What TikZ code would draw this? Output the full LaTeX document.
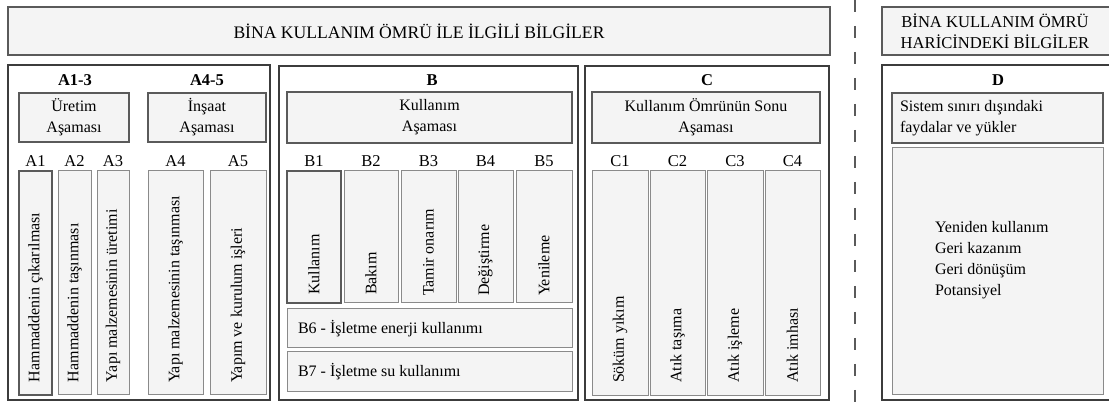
\documentclass[tikz,border=0pt]{standalone}
\usepackage{fontspec}
\setmainfont{Liberation Serif}
\definecolor{dk}{HTML}{3C3C3C}
\definecolor{md}{HTML}{5A5A5A}
\definecolor{lt}{HTML}{8A8A8A}
\definecolor{fl}{HTML}{F4F4F4}
\newcommand\bx[7]{\node[#6, anchor=north west, minimum width={#4-#2}, minimum height={#5-#3}] (#1) at (#2,#3) {#7};}
\begin{document}
\begin{tikzpicture}[x=1pt,y=-1pt,
  every node/.style={inner sep=0pt, outer sep=0pt, font=\fontsize{16}{21}\selectfont},
  panel/.style={draw=dk, line width=1.3pt, fill=white},
  hdr/.style={draw=md, line width=1.1pt, fill=fl, align=center},
  col/.style={draw=lt, line width=1pt, fill=fl},
  colD/.style={draw=md, line width=1.1pt, fill=fl},
  ttl/.style={font=\fontsize{16.5}{21}\selectfont\bfseries},
  lbl/.style={font=\fontsize{16.5}{21}\selectfont},
  vt/.style={rotate=90, anchor=west},
  sep/.style={draw=md, line width=1.4pt, dash pattern=on 12pt off 14pt}]
\useasboundingbox (0,0) rectangle (1109,403);
% banners
\bx{ban}{8}{7}{830}{55}{hdr}{}
\node[font=\fontsize{17.6}{21}\selectfont] (bant) at (ban.center) {BİNA KULLANIM ÖMRÜ İLE İLGİLİ BİLGİLER};
\bx{banD}{882}{7}{1114}{55}{hdr}{}
\node[align=center, font=\fontsize{16.6}{21.5}\selectfont] (banDt) at (995,31) {BİNA KULLANIM ÖMRÜ\\HARİCİNDEKİ BİLGİLER};
% separator
\coordinate (s1) at (855,0);
\coordinate (s2) at (855,403);
\draw[sep] (s1) -- (s2);
% panels
\bx{pA}{8}{65}{270}{400}{panel}{}
\bx{pB}{279}{66}{578}{400}{panel}{}
\bx{pC}{585}{66}{829}{400}{panel}{}
\bx{pD}{882}{65}{1114}{400}{panel}{}
% panel titles
\node[ttl] (tA13) at (75,80) {A1-3};
\node[ttl] (tA45) at (207,80) {A4-5};
\node[ttl] (tB) at (432,80) {B};
\node[ttl] (tC) at (707,80) {C};
\node[ttl] (tD) at (998,80) {D};
% header boxes
\bx{hU}{19}{93}{129}{142}{hdr}{Üretim\\Aşaması}
\bx{hI}{148}{93}{266}{142}{hdr}{İnşaat\\Aşaması}
\bx{hB}{287}{92}{572}{143}{hdr}{Kullanım\\Aşaması}
\bx{hC}{592}{92}{820}{143}{hdr}{Kullanım Ömrünün Sonu\\Aşaması}
\bx{hD}{892}{93}{1103}{143}{hdr}{}
\node[anchor=west, align=left] (hDt) at (900,118) {Sistem sınırı dışındaki\\faydalar ve yükler};
% A columns
\bx{A1}{19}{171}{52}{395}{colD}{}
\bx{A2}{58}{171}{91}{395}{col}{}
\bx{A3}{97}{171}{129}{395}{col}{}
\bx{A4}{148}{171}{203}{395}{col}{}
\bx{A5}{210}{171}{266}{395}{col}{}
\foreach \n in {A1,A2,A3,A4,A5}{\node[lbl] (l\n) at ([yshift=4pt]\n.north) [anchor=south] {\n};}
\node[vt] (tA1) at ([yshift=13pt]A1.south) {Hammaddenin çıkarılması};
\node[vt] (tA2) at ([yshift=13pt]A2.south) {Hammaddenin taşınması};
\node[vt] (tA3) at ([yshift=13pt]A3.south) {Yapı malzemesinin üretimi};
\node[vt] (tA4) at ([yshift=12pt]A4.south) {Yapı malzemesinin taşınması};
\node[vt] (tA5) at ([yshift=12pt]A5.south) {Yapım ve kurulum işleri};
% B columns
\bx{B1}{287}{171}{341}{303}{colD}{}
\bx{B2}{344}{171}{398}{303}{col}{}
\bx{B3}{401}{171}{456}{303}{col}{}
\bx{B4}{458}{171}{513}{303}{col}{}
\bx{B5}{516}{171}{572}{303}{col}{}
\foreach \n in {B1,B2,B3,B4,B5}{\node[lbl] (l\n) at ([yshift=4pt]\n.north) [anchor=south] {\n};}
\node[vt] (tB1) at ([yshift=8pt]B1.south) {Kullanım};
\node[vt] (tB2) at ([yshift=8pt]B2.south) {Bakım};
\node[vt] (tB3) at ([yshift=7pt]B3.south) {Tamir onarım};
\node[vt] (tB4) at ([yshift=7pt]B4.south) {Değiştirme};
\node[vt] (tB5) at ([yshift=7pt]B5.south) {Yenileme};
\bx{B6}{287}{309}{572}{348}{col}{}
\bx{B7}{287}{352}{572}{392}{col}{}
\node[anchor=west] (tB6) at ([xshift=11pt]B6.west) {B6 - İşletme enerji kullanımı};
\node[anchor=west] (tB7) at ([xshift=11pt]B7.west) {B7 - İşletme su kullanımı};
% C columns
\bx{C1}{592}{171}{648}{396}{col}{}
\bx{C2}{650}{171}{705}{396}{col}{}
\bx{C3}{707}{171}{763}{396}{col}{}
\bx{C4}{765}{171}{820}{396}{col}{}
\foreach \n in {C1,C2,C3,C4}{\node[lbl] (l\n) at ([yshift=4pt]\n.north) [anchor=south] {\n};}
\node[vt] (tC1) at ([yshift=13pt]C1.south) {Söküm yıkım};
\node[vt] (tC2) at ([yshift=13pt]C2.south) {Atık taşıma};
\node[vt] (tC3) at ([yshift=13pt]C3.south) {Atık işleme};
\node[vt] (tC4) at ([yshift=13pt]C4.south) {Atık imhası};
% D content
\bx{Dbig}{892}{148}{1103}{395}{col}{}
\node[anchor=north west, align=left] (Dt) at (935,221) {Yeniden kullanım\\Geri kazanım\\Geri dönüşüm\\Potansiyel};
\end{tikzpicture}
\end{document}
